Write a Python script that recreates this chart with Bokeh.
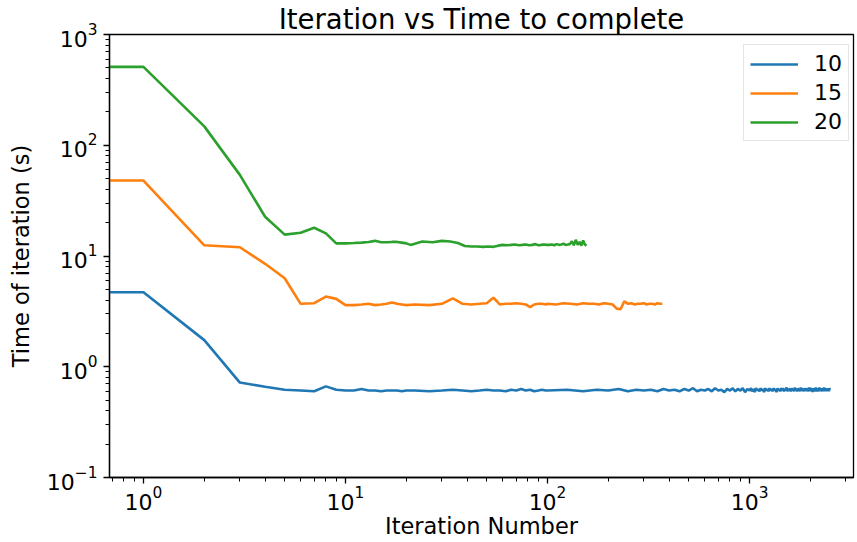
import numpy as np
from bokeh.plotting import figure
from bokeh.models import Range1d, Legend, LegendItem
from bokeh.embed import file_html
from bokeh.resources import INLINE

# ---------------- data ----------------
series_labels = ["10", "15", "20"]
series_colors = ["#1f77b4", "#ff7f0e", "#2ca02c"]

# series "10"
blue_iter_head = list(range(0, 21))
blue_time_head = [4.7, 4.7, 1.74, 0.72, 0.66, 0.62, 0.61, 0.60, 0.665, 0.62,
                  0.61, 0.61, 0.63, 0.61, 0.61, 0.60, 0.61, 0.61, 0.61, 0.60, 0.61]
blue_iter_mid = list(range(22, 100, 4))
blue_time_mid = [0.61, 0.60, 0.61, 0.62, 0.61, 0.60, 0.61, 0.62, 0.61, 0.61,
                 0.60, 0.62, 0.61, 0.63, 0.61, 0.62, 0.60, 0.61, 0.62, 0.61]
blue_iter_tail1 = list(range(100, 1000, 25))
blue_time_tail1 = [0.61, 0.62, 0.60, 0.62, 0.61, 0.63, 0.60, 0.62, 0.61, 0.62,
                   0.60, 0.63, 0.61, 0.62, 0.60, 0.63, 0.61, 0.64, 0.60, 0.62,
                   0.61, 0.63, 0.60, 0.64, 0.61, 0.62, 0.59, 0.63, 0.61, 0.64,
                   0.60, 0.63, 0.61, 0.64, 0.59, 0.63]
blue_iter_tail2 = list(range(1000, 2501, 15))
blue_time_tail2 = [0.61, 0.64, 0.60, 0.63, 0.59, 0.64, 0.61, 0.63, 0.60, 0.64,
                   0.61, 0.63, 0.59, 0.64, 0.61, 0.63, 0.60, 0.64, 0.61, 0.63,
                   0.60, 0.64, 0.61, 0.63, 0.59, 0.64, 0.61, 0.63, 0.60, 0.64,
                   0.61, 0.64, 0.60, 0.63, 0.61, 0.65, 0.60, 0.63, 0.61, 0.64,
                   0.60, 0.64, 0.61, 0.63, 0.60, 0.65, 0.61, 0.63, 0.60, 0.64,
                   0.61, 0.63, 0.60, 0.65, 0.61, 0.64, 0.60, 0.63, 0.61, 0.64,
                   0.60, 0.64, 0.61, 0.63, 0.60, 0.65, 0.60, 0.64, 0.61, 0.64,
                   0.59, 0.64, 0.61, 0.63, 0.60, 0.65, 0.61, 0.64, 0.60, 0.63,
                   0.61, 0.65, 0.60, 0.64, 0.61, 0.63, 0.60, 0.64, 0.61, 0.65,
                   0.60, 0.64, 0.61, 0.63, 0.60, 0.64, 0.61, 0.63, 0.60, 0.64,
                   0.62]

# series "15"
orange_iter_head = list(range(0, 21))
orange_time_head = [48, 48, 12.5, 12.0, 8.5, 6.3, 3.7, 3.75, 4.3, 4.1,
                    3.6, 3.6, 3.65, 3.7, 3.6, 3.65, 3.7, 3.8, 3.7, 3.65, 3.6]
orange_iter_mid = list(range(22, 100, 4))
orange_time_mid = [3.65, 3.6, 3.7, 4.15, 3.7, 3.65, 3.7, 3.75, 4.2, 3.65,
                   3.7, 3.7, 3.75, 3.7, 3.65, 3.45, 3.65, 3.7, 3.7, 3.65]
orange_iter_tail = list(range(100, 371, 10))
orange_time_tail = [3.7, 3.65, 3.75, 3.7, 3.65, 3.75, 3.7, 3.7, 3.65, 3.75,
                    3.7, 3.65, 3.35, 3.3, 3.9, 3.7, 3.75, 3.65, 3.7, 3.7,
                    3.75, 3.65, 3.7, 3.7, 3.65, 3.75, 3.7, 3.7]

# series "20"
green_iter_head = list(range(0, 21))
green_time_head = [510, 510, 148, 54, 22.6, 15.6, 16.2, 18.0, 16.0, 13.0,
                   13.0, 13.1, 13.2, 13.4, 13.7, 13.3, 13.3, 13.4, 13.4, 13.2, 13.0]
green_iter_mid = list(range(21, 100, 3))
green_time_mid = [12.6, 13.5, 13.3, 13.7, 13.5, 13.1, 12.3, 12.2, 12.2, 12.1,
                  12.2, 12.1, 12.4, 12.6, 12.5, 12.6, 12.7, 12.5, 12.6, 12.7,
                  12.5, 12.6, 12.8, 12.5, 12.6, 12.7, 12.6]
green_iter_tail = list(range(102, 157, 3))
green_time_tail = [12.6, 12.7, 12.5, 12.8, 12.6, 12.7, 12.9, 12.6, 12.7, 12.8,
                   13.6, 12.5, 14.0, 12.6, 13.4, 12.4, 13.8, 12.7, 12.4]

x_limits = (0.679, 3270)
y_limits = (0.1, 1000)


def build(iters_parts, time_parts):
    its, tms = [], []
    for a, b in zip(iters_parts, time_parts):
        n = min(len(a), len(b))
        its.append(np.asarray(a[:n], dtype=float))
        tms.append(np.asarray(b[:n], dtype=float))
    it = np.concatenate(its)
    tm = np.concatenate(tms)
    # iteration 0 cannot be shown on a log axis: clip it far to the left
    it = np.where(it > 0, it, 1e-3)
    return it, tm


series = [
    build([blue_iter_head, blue_iter_mid, blue_iter_tail1, blue_iter_tail2],
          [blue_time_head, blue_time_mid, blue_time_tail1, blue_time_tail2]),
    build([orange_iter_head, orange_iter_mid, orange_iter_tail],
          [orange_time_head, orange_time_mid, orange_time_tail]),
    build([green_iter_head, green_iter_mid, green_iter_tail],
          [green_time_head, green_time_mid, green_time_tail]),
]

# ---------------- figure ----------------
FONT = "DejaVu Sans"
p = figure(width=857, height=542, x_axis_type="log", y_axis_type="log",
           x_range=Range1d(*x_limits), y_range=Range1d(*y_limits),
           output_backend="svg", toolbar_location=None,
           title="Iteration vs Time to complete")
p.min_border_left = 109
p.min_border_right = 4
p.min_border_top = 34
p.min_border_bottom = 65
p.background_fill_color = "white"
p.border_fill_color = "white"
p.outline_line_color = "black"
p.outline_line_width = 1.3
p.xgrid.visible = False
p.ygrid.visible = False

p.title.align = "center"
p.title.text_font = FONT
p.title.text_font_size = "27.5px"
p.title.text_font_style = "normal"
p.title.text_color = "black"
p.title.standoff = 0
p.title.offset = 7

for ax in (p.xaxis[0], p.yaxis[0]):
    ax.axis_line_color = "black"
    ax.axis_line_width = 1.3
    ax.major_tick_line_color = "black"
    ax.major_tick_line_width = 1.3
    ax.minor_tick_line_color = "black"
    ax.minor_tick_line_width = 1.0
    ax.major_tick_in = 0
    ax.major_tick_out = 6
    ax.minor_tick_in = 0
    ax.minor_tick_out = 4
    ax.major_label_text_font = FONT
    ax.major_label_text_font_size = "22px"
    ax.major_label_text_color = "black"
    ax.axis_label_text_font = FONT
    ax.axis_label_text_font_size = "22.5px"
    ax.axis_label_text_font_style = "normal"
    ax.axis_label_text_color = "black"

p.xaxis.axis_label = "Iteration Number"
p.yaxis.axis_label = "Time of iteration (s)"
p.xaxis.major_label_standoff = 2
p.yaxis.major_label_standoff = 6
p.xaxis.axis_label_standoff = 0
p.yaxis.axis_label_standoff = 10

items = []
for (x, y), lab, col in zip(series, series_labels, series_colors):
    r = p.line(x, y, line_color=col, line_width=2.6)
    items.append(LegendItem(label=lab, renderers=[r]))

legend = Legend(items=items, location=(634, 336))
legend.label_text_font = FONT
legend.label_text_font_size = "22px"
legend.label_text_color = "black"
legend.glyph_width = 48
legend.glyph_height = 22
legend.label_height = 22
legend.spacing = 4
legend.padding = 6
legend.label_standoff = 16
legend.border_line_color = "#cccccc"
legend.border_line_width = 1.2
legend.background_fill_alpha = 1.0
p.add_layout(legend, "center")

open("out.html", "w").write(file_html(p, INLINE))
